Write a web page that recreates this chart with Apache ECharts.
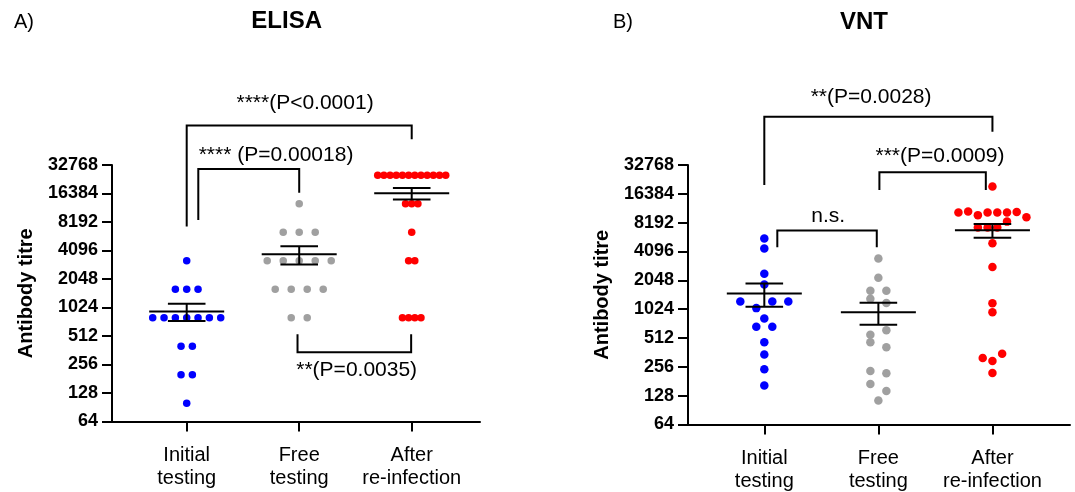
<!DOCTYPE html>
<html><head><meta charset="utf-8">
<script src="https://cdn.jsdelivr.net/npm/echarts@6/dist/echarts.min.js"></script>
<style>html,body{margin:0;padding:0;background:#fff}#c{width:1075px;height:492px}</style>
</head><body><div id="c"></div>
<script>
// ---------- data ----------
const categories = ['Initial\ntesting', 'Free\ntesting', 'After\nre-infection'];
const yTickValues = [64, 128, 256, 512, 1024, 2048, 4096, 8192, 16384, 32768];
const panelTitles = ['ELISA', 'VNT'];
const panelTags = ['A)', 'B)'];
const yAxisTitle = 'Antibody titre';

const elisaInitial = [3200, 1600, 1600, 1600, 800, 800, 800, 800, 800, 800, 800, 400, 400, 200, 200, 100];
const elisaFree = [12800, 6400, 6400, 6400, 3200, 3200, 3200, 3200, 3200, 1600, 1600, 1600, 1600, 800, 800];
const elisaAfter = [25600, 25600, 25600, 25600, 25600, 25600, 25600, 25600, 25600, 25600, 25600, 25600,
  12800, 12800, 12800, 6400, 3200, 3200, 800, 800, 800, 800];

const vntInitial = [5600, 4400, 2400, 1850, 1230, 1050, 1230, 1230, 820, 670, 670, 461, 345, 241, 163];
const vntFree = [3470, 2180, 1596, 1596, 1314, 1188, 553, 617, 461, 410, 231, 220, 169, 143, 114];
const vntAfter = [19500, 10440, 10700, 9820, 10440, 10440, 10440, 10600, 9350, 7280, 7280, 7280, 8400,
  5000, 2820, 1180, 950, 316, 294, 350, 221];

const elisaPLabels = ['****(P<0.0001)', '**** (P=0.00018)', '**(P=0.0035)'];
const vntPLabels = ['**(P=0.0028)', '***(P=0.0009)', 'n.s.'];

// ---------- styling / layout ----------
const FONT = 'Arial, "Liberation Sans", Helvetica, sans-serif';
const groupColors = ['#0000ff', '#a0a0a0', '#ff0000'];
// bracket geometry: x in category units, heights as log2 exponents
const elisaBrackets = [
  {x1: 1, x2: 3, bar: 16.39, leg1: 12.84, leg2: 15.90, tx: 2.052, ty: 17.16},
  {x1: 1.103, x2: 2, bar: 14.86, leg1: 13.07, leg2: 14.03, tx: 1.794, ty: 15.35},
  {x1: 1.985, x2: 2.995, bar: 8.43, leg1: 9.06, leg2: 9.06, tx: 2.511, ty: 7.81}
];
const vntBrackets = [
  {x1: 1, x2: 3, bar: 16.67, leg1: 14.31, leg2: 16.15, tx: 1.936, ty: 17.36},
  {x1: 2.009, x2: 2.942, bar: 14.75, leg1: 14.13, leg2: 14.13, tx: 2.54, ty: 15.29},
  {x1: 1.114, x2: 1.986, bar: 12.73, leg1: 12.15, leg2: 12.15, tx: 1.56, ty: 13.21}
];

const chart = echarts.init(document.getElementById('c'), null, {renderer: 'canvas'});

function xAxisOf(gi, min, max) {
  return {
    type: 'value', gridIndex: gi, min: min, max: max,
    axisLine: {show: true, onZero: false, lineStyle: {color: '#000', width: 2}},
    axisTick: {show: true, customValues: [1, 2, 3], length: 10, lineStyle: {color: '#000', width: 2}},
    axisLabel: {show: true, customValues: [1, 2, 3], margin: 22, color: '#000', fontSize: 20, lineHeight: 23,
      fontFamily: FONT, formatter: v => categories[Math.round(v) - 1] || ''},
    splitLine: {show: false}
  };
}
function yAxisOf(gi) {
  return {
    type: 'log', logBase: 2, gridIndex: gi, min: 64, max: 32768, interval: 1,
    name: yAxisTitle, nameLocation: 'middle', nameRotate: 90, nameGap: 76,
    nameTextStyle: {color: '#000', fontSize: 20, fontWeight: 'bold', fontFamily: FONT},
    axisLine: {show: true, onZero: false, lineStyle: {color: '#000', width: 2}},
    axisTick: {show: true, length: 10, lineStyle: {color: '#000', width: 2}},
    axisLabel: {show: true, margin: 14, color: '#000', fontSize: 18, fontWeight: 'bold', fontFamily: FONT,
      formatter: v => {
        const r = Math.round(v);
        const hit = yTickValues.find(t => Math.abs(t - r) / t < 0.01);
        return hit ? String(hit) : '';
      }},
    splitLine: {show: false}, minorTick: {show: false}
  };
}

function stats(groups) {
  return groups.map((g, i) => {
    const n = g.length;
    const m = g.reduce((s, v) => s + v, 0) / n;
    const sd = Math.sqrt(g.reduce((s, v) => s + (v - m) * (v - m), 0) / (n - 1));
    return [i + 1, m, sd / Math.sqrt(n)];
  });
}

function errorSeries(gi, groups) {
  return {
    type: 'custom', id: 'err' + gi, xAxisIndex: gi, yAxisIndex: gi, z: 10, silent: true, clip: false,
    encode: {x: 0, y: 1},
    data: stats(groups),
    renderItem(params, api) {
      const x = api.value(0), m = api.value(1), s = api.value(2);
      const c = api.coord([x, m]), u = api.coord([x, m + s]), l = api.coord([x, m - s]);
      const st = {stroke: '#000', lineWidth: 2};
      return {type: 'group', children: [
        {type: 'line', shape: {x1: c[0] - 37.5, y1: c[1], x2: c[0] + 37.5, y2: c[1]}, style: st},
        {type: 'line', shape: {x1: c[0], y1: u[1], x2: c[0], y2: l[1]}, style: st},
        {type: 'line', shape: {x1: c[0] - 18.8, y1: u[1], x2: c[0] + 18.8, y2: u[1]}, style: st},
        {type: 'line', shape: {x1: c[0] - 18.8, y1: l[1], x2: c[0] + 18.8, y2: l[1]}, style: st}
      ]};
    }
  };
}

function bracketSeries(gi, config, labels) {
  return {
    type: 'custom', id: 'br' + gi, xAxisIndex: gi, yAxisIndex: gi, z: 6, silent: true, clip: false,
    data: config.map(c => [c.x1, 1000]),
    renderItem(params, api) {
      const c = config[params.dataIndex];
      const p = (x, e) => api.coord([x, Math.pow(2, e)]);
      const a = p(c.x1, c.leg1), b = p(c.x1, c.bar), d = p(c.x2, c.bar), e = p(c.x2, c.leg2), t = p(c.tx, c.ty);
      return {type: 'group', children: [
        {type: 'polyline', shape: {points: [a, b, d, e]}, style: {stroke: '#000', lineWidth: 2, fill: null}},
        {type: 'text', x: t[0], y: t[1], style: {text: labels[params.dataIndex], fill: '#000', fontSize: 21,
          fontFamily: FONT, align: 'center', verticalAlign: 'middle'}}
      ]};
    }
  };
}

const panels = [
  {groups: [elisaInitial, elisaFree, elisaAfter], size: 7.5},
  {groups: [vntInitial, vntFree, vntAfter], size: 8.5}
];

const scatterSeries = [];
panels.forEach((p, gi) => p.groups.forEach((g, k) => {
  scatterSeries.push({type: 'scatter', id: 'sc' + gi + '_' + k, xAxisIndex: gi, yAxisIndex: gi, z: 3,
    symbol: 'circle', symbolSize: p.size, itemStyle: {color: groupColors[k], opacity: 1}, data: [], silent: true});
}));

chart.setOption({
  animation: false,
  backgroundColor: '#fff',
  grid: [
    {left: 112, top: 165, width: 368, height: 256.5, outerBoundsMode: 'none', containLabel: false},
    {left: 688, top: 165, width: 382, height: 259.5, outerBoundsMode: 'none', containLabel: false}
  ],
  xAxis: [xAxisOf(0, 0.336, 3.607), xAxisOf(1, 0.331, 3.68)],
  yAxis: [yAxisOf(0), yAxisOf(1)],
  graphic: [
    {type: 'text', x: 286.7, y: 21, style: {text: panelTitles[0], fill: '#000', fontSize: 24, fontWeight: 'bold', fontFamily: FONT, align: 'center', verticalAlign: 'middle'}},
    {type: 'text', x: 864, y: 22, style: {text: panelTitles[1], fill: '#000', fontSize: 24, fontWeight: 'bold', fontFamily: FONT, align: 'center', verticalAlign: 'middle'}},
    {type: 'text', x: 14, y: 22, style: {text: panelTags[0], fill: '#000', fontSize: 20, fontFamily: FONT, align: 'left', verticalAlign: 'middle'}},
    {type: 'text', x: 613, y: 22, style: {text: panelTags[1], fill: '#000', fontSize: 20, fontFamily: FONT, align: 'left', verticalAlign: 'middle'}}
  ],
  series: scatterSeries.concat([
    errorSeries(0, panels[0].groups), errorSeries(1, panels[1].groups),
    bracketSeries(0, elisaBrackets, elisaPLabels), bracketSeries(1, vntBrackets, vntPLabels)
  ])
});

// Prism-like column scatter: bin points whose pixel heights overlap, spread each bin horizontally
function swarm(values, catX, gi) {
  const finder = {gridIndex: gi};
  const px = values.map(v => chart.convertToPixel(finder, [catX, v]));
  const pxPerUnit = chart.convertToPixel(finder, [catX + 1, values[0]])[0] - px[0][0];
  const binH = 7.5, maxStep = 16, width = 68;
  const order = values.map((v, i) => i).sort((a, b) => (px[a][1] - px[b][1]) || (a - b));
  const bins = [];
  let cur = null;
  order.forEach(i => {
    if (cur && px[i][1] - cur.y0 < binH) cur.items.push(i);
    else { cur = {y0: px[i][1], items: [i]}; bins.push(cur); }
  });
  const maxBin = Math.max.apply(null, bins.map(b => b.items.length));
  const step = maxBin > 1 ? Math.min(maxStep, width / (maxBin - 1)) : 0;
  const out = [];
  bins.forEach(b => {
    const items = b.items.slice().sort((a, c) => a - c);
    items.forEach((i, k) => {
      const off = (k - (items.length - 1) / 2) * step;
      out[i] = [catX + off / pxPerUnit, values[i]];
    });
  });
  return out;
}

const updates = [];
panels.forEach((p, gi) => p.groups.forEach((g, k) => {
  updates.push({id: 'sc' + gi + '_' + k, data: swarm(g, k + 1, gi)});
}));
chart.setOption({series: updates});
</script></body></html>
